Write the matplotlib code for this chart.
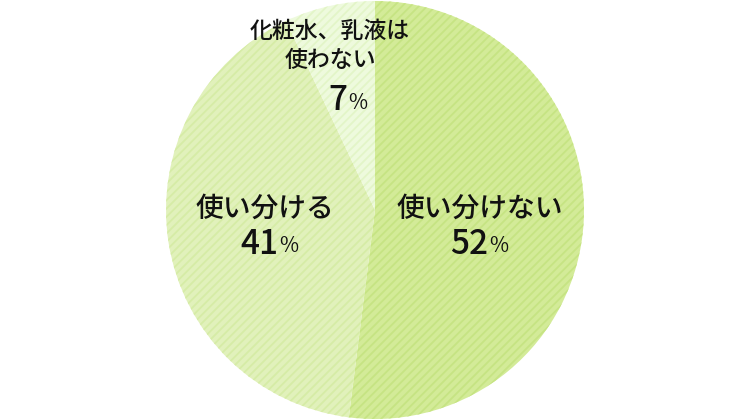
import matplotlib
matplotlib.use("Agg")
import matplotlib.pyplot as plt

plt.rcParams['font.family'] = ['Noto Sans CJK JP', 'DejaVu Sans']
plt.rcParams['hatch.linewidth'] = 1.3

# data
labels = ["使い分けない", "使い分ける", "化粧水、乳液は\n使わない"]
values = [52, 41, 7]
colors = ["#d3eb98", "#e1f1bb", "#eefadd"]
hatch_colors = ["#c6e483", "#d6eca6", "#e3f5c8"]

fig = plt.figure(figsize=(7.5, 4.2), dpi=100)
ax = fig.add_axes([0, 0, 1, 1])

wedges, _ = ax.pie(values, colors=colors, startangle=90, counterclock=False,
                   center=(375, 210), radius=209, frame=True,
                   wedgeprops=dict(linewidth=0))
for w, hc in zip(wedges, hatch_colors):
    w.set_hatch('////')
    w.set_edgecolor(hc)
    w.set_linewidth(0)
ax.set_xlim(0, 750)
ax.set_ylim(0, 420)
ax.set_aspect('equal')
ax.axis('off')

# label positions (pixels from top-left)
lab_pos = [(480, 208), (265, 208), (330, 46)]
num_pos = [(488, 244), (278, 244), (347, 101)]
lab_size = [20, 20, 16.5]
for lab, (lx, ly), (nx, ny), v, fs in zip(labels, lab_pos, num_pos, values, lab_size):
    ax.text(lx, 420 - ly, lab, ha='center', va='center', fontsize=fs,
            color='#111111', linespacing=1.35, fontweight='medium')
    ax.text(nx, 420 - ny, str(v), ha='right', va='center', fontsize=24,
            color='#111111', fontweight='medium')
    ax.text(nx + 1, 420 - ny - 2, "%", ha='left', va='center', fontsize=15,
            color='#111111')

fig.savefig("out.png", dpi=100)
